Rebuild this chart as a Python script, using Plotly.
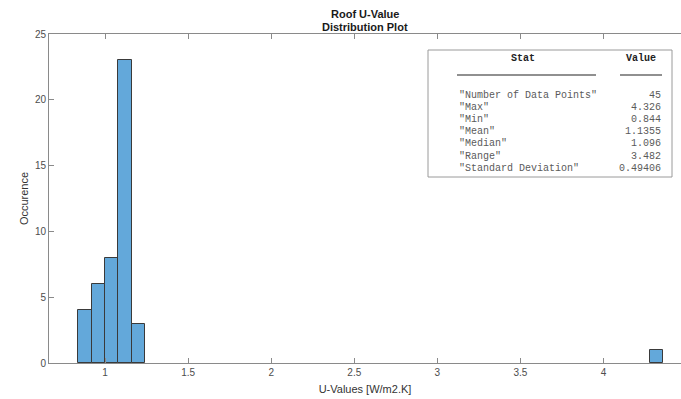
import plotly.graph_objects as go

# ---- data ----
bin_left = [0.84, 0.92, 1.00, 1.08, 1.16, 4.28]
bin_counts = [4, 6, 8, 23, 3, 1]
bin_width = 0.08

stat_labels = ['"Number of Data Points"', '"Max"', '"Min"', '"Mean"', '"Median"', '"Range"', '"Standard Deviation"']
stat_values = ["45", "4.326", "0.844", "1.1355", "1.096", "3.482", "0.49406"]

title_lines = ["Roof U-Value", "Distribution Plot"]

x_ticks = [1, 1.5, 2, 2.5, 3, 3.5, 4]
y_ticks = [0, 5, 10, 15, 20, 25]

W, H = 681, 399
ML, MR, MT, MB = 49, 0, 34, 36
PW, PH = W - ML - MR, H - MT - MB

def px(x):
    return (x - ML) / PW

def py(y):
    return (H - MB - y) / PH

centers = [b + bin_width / 2 for b in bin_left]

fig = go.Figure()
fig.add_trace(go.Bar(
    x=centers, y=bin_counts, width=[bin_width] * len(centers),
    marker=dict(color="#63A8DA", line=dict(color="#3a3a3a", width=1)),
    showlegend=False,
))

axis_common = dict(
    showline=True, linecolor="#8a8a8a", linewidth=1,
    ticks="inside", ticklen=5, tickcolor="#8a8a8a",
    showgrid=False, zeroline=False, automargin=False,
    tickfont=dict(family="Liberation Sans, Arial", size=10, color="#4d4d4d"),
)

fig.update_layout(
    width=W, height=H,
    margin=dict(l=ML, r=MR, t=MT, b=MB, pad=0, autoexpand=False),
    paper_bgcolor="white", plot_bgcolor="white",
    bargap=0,
    xaxis=dict(
        range=[0.663, 4.466], tickvals=x_ticks,
        ticktext=[f"{t:g}" for t in x_ticks],
        mirror="ticks",
        title=dict(text="U-Values [W/m2.K]", standoff=8,
                   font=dict(family="Liberation Sans, Arial", size=11, color="#333333")),
        **axis_common,
    ),
    yaxis=dict(
        range=[0, 25], tickvals=y_ticks,
        title=dict(text="Occurence", standoff=4,
                   font=dict(family="Liberation Sans, Arial", size=11, color="#333333")),
        **axis_common,
    ),
    font=dict(family="Liberation Sans, Arial"),
)

# title (two bold lines)
for ty, line in zip([13.5, 26.5], title_lines):
    fig.add_annotation(x=px(365), y=py(ty), xref="paper", yref="paper",
                       text=f"<b>{line}</b>", showarrow=False,
                       xanchor="center", yanchor="middle",
                       font=dict(family="Liberation Sans, Arial", size=11, color="#1a1a1a"))

# stats box
fig.add_shape(type="rect", xref="paper", yref="paper",
              x0=px(428), x1=px(672), y0=py(177), y1=py(50),
              line=dict(color="#9a9a9a", width=1), fillcolor="white", layer="above")

mono = "Liberation Mono, Courier New, monospace"
fig.add_annotation(x=px(523), y=py(58), xref="paper", yref="paper",
                   text="<b>Stat</b>", showarrow=False, xanchor="center", yanchor="middle",
                   font=dict(family=mono, size=10, color="#222222"))
fig.add_annotation(x=px(641), y=py(58), xref="paper", yref="paper",
                   text="<b>Value</b>", showarrow=False, xanchor="center", yanchor="middle",
                   font=dict(family=mono, size=10, color="#222222"))
fig.add_shape(type="line", xref="paper", yref="paper",
              x0=px(457), x1=px(596), y0=py(75), y1=py(75),
              line=dict(color="#222222", width=1.2))
fig.add_shape(type="line", xref="paper", yref="paper",
              x0=px(620), x1=px(662), y0=py(75), y1=py(75),
              line=dict(color="#222222", width=1.2))

row_y0, row_dy = 95, 12.2
for i, (lab, val) in enumerate(zip(stat_labels, stat_values)):
    yy = py(row_y0 + i * row_dy)
    fig.add_annotation(x=px(457), y=yy, xref="paper", yref="paper", text=lab,
                       showarrow=False, xanchor="left", yanchor="middle",
                       font=dict(family=mono, size=10, color="#5a5a5a"))
    fig.add_annotation(x=px(663), y=yy, xref="paper", yref="paper", text=val,
                       showarrow=False, xanchor="right", yanchor="middle",
                       font=dict(family=mono, size=10, color="#5a5a5a"))

fig.write_html("out.html", config={"displayModeBar": False},
               post_script="document.body.style.margin='0';document.body.style.padding='0';")
